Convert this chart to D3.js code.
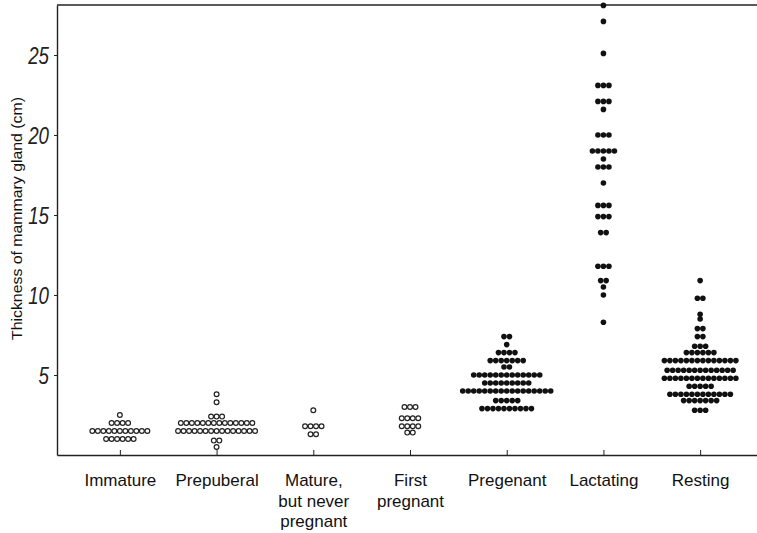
<!DOCTYPE html>
<html><head><meta charset="utf-8">
<script src="https://cdn.jsdelivr.net/npm/d3@7"></script>
<style>body{margin:0;background:#fff} svg{display:block}</style>
</head><body><svg id="chart" width="757" height="533"></svg>
<script>
// Categories and their label lines
const categories = ["Immature", "Prepuberal", "Mature, but never pregnant", "First pregnant", "Pregenant", "Lactating", "Resting"];
const categoryLines = [["Immature"], ["Prepuberal"], ["Mature,", "but never", "pregnant"], ["First", "pregnant"], ["Pregenant"], ["Lactating"], ["Resting"]];
const openCategories = ["Immature", "Prepuberal", "Mature, but never pregnant", "First pregnant"];

// Observations per category, as [thickness (cm), number of animals]
const immatureRows   = [[2.5, 1], [2.0, 4], [1.5, 11], [1.0, 6]];
const prepuberalRows = [[3.8, 1], [3.3, 1], [2.4, 3], [2.0, 14], [1.5, 15], [0.9, 2], [0.5, 1]];
const matureRows     = [[2.8, 1], [1.8, 4], [1.3, 2]];
const firstPregRows  = [[3.0, 3], [2.3, 4], [1.8, 4], [1.4, 2]];
const pregnantRows   = [[7.4, 2], [6.9, 1], [6.4, 4], [5.9, 7], [5.5, 2], [5.0, 13], [4.5, 9], [4.0, 17], [3.4, 5], [2.9, 10]];
const lactatingRows  = [[28.1, 1], [27.1, 1], [25.1, 1], [23.1, 3], [22.1, 3], [21.6, 1], [20.0, 3], [19.0, 5], [18.5, 1], [18.0, 3],
                        [17.0, 1], [15.6, 3], [14.9, 3], [13.9, 2], [11.8, 3], [10.9, 2], [10.5, 1], [10.0, 1], [8.3, 1]];
const restingRows    = [[10.9, 1], [9.8, 2], [8.8, 1], [8.5, 1], [7.9, 2], [7.4, 2], [6.8, 3], [6.4, 6], [5.9, 14], [5.3, 13],
                        [4.8, 14], [4.3, 5], [3.8, 12], [3.4, 7], [2.8, 3]];
const allRows = [immatureRows, prepuberalRows, matureRows, firstPregRows, pregnantRows, lactatingRows, restingRows];

const yTicks = [5, 10, 15, 20, 25];
const yMax = 28.125;
const yLabel = "Thickness of mammary gland (cm)";

const svg = d3.select("#chart");
const x = d3.scalePoint().domain(categories).range([57, 763]).padding(0.65);
const y = d3.scaleLinear().domain([0, yMax]).range([455, 5]);
const dotStep = 5.5;

// frame top line
svg.append("line")
  .attr("x1", x.range()[0]).attr("x2", 757)
  .attr("y1", y(yMax)).attr("y2", y(yMax))
  .attr("stroke", "#222").attr("stroke-width", 1.3);

// left axis
const gy = svg.append("g").attr("transform", `translate(${x.range()[0]},0)`)
  .call(d3.axisLeft(y).tickValues(yTicks).tickSizeInner(3).tickSizeOuter(0));
gy.select(".domain").attr("stroke", "#222").attr("stroke-width", 1.4);
gy.selectAll(".tick line").attr("stroke", "#222");
gy.selectAll(".tick text")
  .attr("font-family", "Liberation Sans, Arial, sans-serif")
  .attr("font-style", "italic")
  .attr("font-size", 24)
  .attr("fill", "#222")
  .attr("x", -8 / 0.78)
  .attr("dy", "0.36em")
  .attr("transform", "scale(0.78,1)");

// bottom axis
const gx = svg.append("g").attr("transform", `translate(0,${y(0)})`)
  .call(d3.axisBottom(x).tickSizeInner(-5).tickSizeOuter(0));
gx.select(".domain").attr("stroke", "#222").attr("stroke-width", 1.4);
gx.selectAll(".tick line").attr("stroke", "#222");
gx.selectAll(".tick text").remove();
gx.selectAll(".tick").each(function(d, i) {
  const t = d3.select(this).append("text")
    .attr("text-anchor", "middle")
    .attr("font-family", "Liberation Sans, Arial, sans-serif")
    .attr("font-size", 17)
    .attr("fill", "#111");
  categoryLines[i].forEach((line, k) => {
    t.append("tspan").attr("x", 0).attr("y", 31 + k * 20.5).text(line);
  });
});

// y label
svg.append("text")
  .attr("transform", `translate(22,${(97 + 340) / 2}) rotate(-90)`)
  .attr("text-anchor", "middle")
  .attr("font-family", "Liberation Sans, Arial, sans-serif")
  .attr("font-size", 14.5)
  .attr("textLength", 243)
  .attr("lengthAdjust", "spacingAndGlyphs")
  .attr("fill", "#111")
  .text(yLabel);

// dots
const points = [];
categories.forEach((c, ci) => {
  allRows[ci].forEach(([v, n]) => {
    for (let k = 0; k < n; k++) points.push({cat: c, value: v, offset: (k - (n - 1) / 2) * dotStep});
  });
});
svg.append("g").selectAll("circle").data(points).join("circle")
  .attr("cx", d => x(d.cat) + d.offset)
  .attr("cy", d => y(d.value))
  .attr("r", d => openCategories.includes(d.cat) ? 2.4 : 2.8)
  .attr("fill", d => openCategories.includes(d.cat) ? "#fff" : "#111")
  .attr("stroke", d => openCategories.includes(d.cat) ? "#222" : "none")
  .attr("stroke-width", 1.2);
</script>
</body></html>
